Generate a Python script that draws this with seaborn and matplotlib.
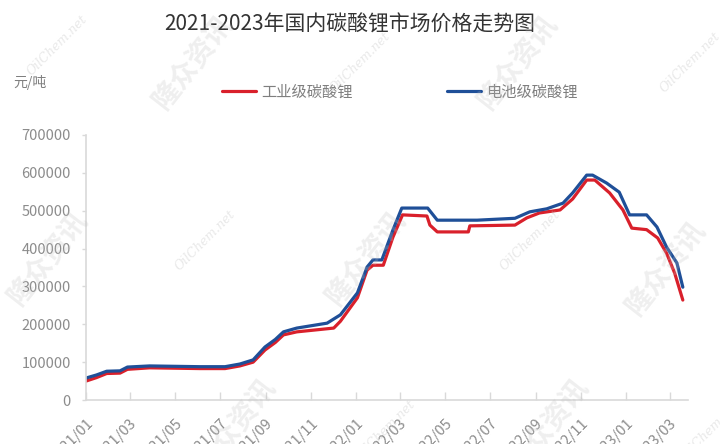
import matplotlib
matplotlib.use("Agg")
import matplotlib.pyplot as plt
import matplotlib.dates as mdates
from matplotlib.lines import Line2D
import seaborn as sns
import pandas as pd

# ---- data ----
series_names = ["工业级碳酸锂", "电池级碳酸锂"]

industrial_dates = [
    "2021-01-01", "2021-01-15", "2021-01-29", "2021-02-16", "2021-02-26", "2021-03-28",
    "2021-06-04", "2021-07-08", "2021-07-28", "2021-08-15", "2021-08-31", "2021-09-14",
    "2021-09-25", "2021-10-13", "2021-12-02", "2021-12-11", "2022-01-03", "2022-01-16",
    "2022-01-24", "2022-02-07", "2022-02-20", "2022-03-05", "2022-04-07", "2022-04-11",
    "2022-04-21", "2022-06-02", "2022-06-04", "2022-08-04", "2022-08-20", "2022-09-06",
    "2022-10-04", "2022-10-21", "2022-11-09", "2022-11-20", "2022-12-10", "2022-12-28",
    "2023-01-09", "2023-01-29", "2023-02-13", "2023-02-25", "2023-03-08", "2023-03-19",
]
industrial_values = [
    50000, 59000, 70000, 71000, 81000, 85000,
    83000, 83000, 90000, 100000, 132000, 152000,
    172000, 180000, 190000, 208000, 270000, 343000,
    356000, 356000, 430000, 489000, 486000, 462000,
    444000, 444000, 460000, 462000, 481000, 494000,
    502000, 531000, 581000, 581000, 547000, 502000,
    454000, 450000, 428000, 388000, 335000, 264000,
]

battery_dates = [
    "2021-01-01", "2021-01-15", "2021-01-29", "2021-02-16", "2021-02-26", "2021-03-28",
    "2021-06-04", "2021-07-08", "2021-07-28", "2021-08-15", "2021-08-31", "2021-09-14",
    "2021-09-25", "2021-10-13", "2021-11-23", "2021-12-11", "2022-01-03", "2022-01-16",
    "2022-01-24", "2022-02-05", "2022-02-20", "2022-03-04", "2022-04-08", "2022-04-21",
    "2022-06-14", "2022-08-04", "2022-08-24", "2022-09-16", "2022-10-08", "2022-10-21",
    "2022-11-09", "2022-11-17", "2022-12-06", "2022-12-23", "2023-01-06", "2023-01-29",
    "2023-02-12", "2023-02-25", "2023-03-11", "2023-03-19",
]
battery_values = [
    58000, 66000, 76000, 77000, 87000, 90000,
    88000, 88000, 95000, 106000, 140000, 160000,
    180000, 190000, 203000, 225000, 283000, 351000,
    370000, 370000, 449000, 507000, 507000, 475000,
    475000, 480000, 497000, 505000, 520000, 547000,
    594000, 594000, 573000, 549000, 489000, 489000,
    457000, 404000, 362000, 298000,
]

y_ticks = [0, 100000, 200000, 300000, 400000, 500000, 600000, 700000]
title_text = "2021-2023年国内碳酸锂市场价格走势图"
unit_text = "元/吨"

# ---- build table ----
df = pd.concat([
    pd.DataFrame({"date": pd.to_datetime(industrial_dates), "price": industrial_values,
                  "series": series_names[0]}),
    pd.DataFrame({"date": pd.to_datetime(battery_dates), "price": battery_values,
                  "series": series_names[1]}),
], ignore_index=True)

sns.set_theme(style="white")
plt.rcParams["font.family"] = ["Noto Sans CJK SC", "DejaVu Sans"]

colors = {series_names[0]: "#d9202b", series_names[1]: "#1f4f98"}

fig = plt.figure(figsize=(7.2, 4.44), dpi=100)
ax = fig.add_axes([86 / 720, 44 / 444, (688 - 86) / 720, (400 - 135) / 444])

sns.lineplot(data=df, x="date", y="price", hue="series", palette=colors,
             hue_order=series_names, linewidth=2.3, ax=ax, legend=False, sort=True)

ax.set_ylim(0, 700000)
ax.set_yticks(y_ticks)
ax.set_xlim(pd.Timestamp("2021-01-01"), pd.Timestamp("2023-03-26"))
ax.xaxis.set_major_locator(mdates.MonthLocator(bymonth=[1, 3, 5, 7, 9, 11]))
ax.xaxis.set_major_formatter(mdates.DateFormatter("%Y/%m"))
ax.set_xlabel("")
ax.set_ylabel("")

for side in ["top", "right"]:
    ax.spines[side].set_visible(False)
for side in ["left", "bottom"]:
    ax.spines[side].set_color("#d9d9d9")
    ax.spines[side].set_linewidth(1.2)

ax.tick_params(axis="y", direction="out", length=3, width=1, color="#d9d9d9",
               labelsize=10.5, labelcolor="#8c8c8c", pad=8, left=True)
ax.tick_params(axis="x", direction="in", length=6, width=1, color="#d9d9d9",
               labelsize=10.5, labelcolor="#8c8c8c", pad=12, bottom=True)
for lab in ax.get_xticklabels():
    lab.set_rotation(45)
    lab.set_ha("right")
    lab.set_va("top")
    lab.set_rotation_mode("anchor")

# title and unit
fig.text(350 / 720, 1 - 25 / 444, title_text, ha="center", va="center",
         fontsize=15, color="#333333")
fig.text(13 / 720, 1 - 82 / 444, unit_text, ha="left", va="center",
         fontsize=10, color="#7f7f7f")

# legend
handles = [Line2D([0], [0], color=colors[n], lw=2.3) for n in series_names]
leg = fig.legend(handles, series_names, loc="center", ncol=2,
                 bbox_to_anchor=(400 / 720, 1 - 92 / 444), frameon=False,
                 fontsize=11, handlelength=2.2, handletextpad=0.35,
                 columnspacing=6.2)
for t in leg.get_texts():
    t.set_color("#7f7f7f")

# watermarks
wm_cn = [(192, 62), (517, 62), (47, 258), (365, 258), (665, 268), (235, 425), (548, 425)]
wm_en = [(57, 45), (360, 62), (690, 62), (205, 240), (530, 240), (385, 430), (710, 430)]
for x, y in wm_cn:
    fig.text(x / 720, 1 - y / 444, "隆众资讯", ha="center", va="center", rotation=52,
             fontsize=20, fontweight="bold", color="#bfbfbf", alpha=0.25, zorder=10)
for x, y in wm_en:
    fig.text(x / 720, 1 - y / 444, "OilChem.net", ha="center", va="center", rotation=45,
             fontsize=9, fontstyle="italic", family="DejaVu Serif", color="#bfbfbf",
             alpha=0.35, zorder=10)

fig.savefig("out.png", dpi=100)
